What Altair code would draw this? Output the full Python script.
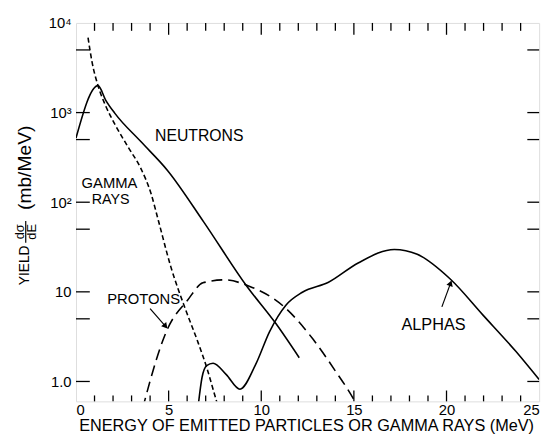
import altair as alt
import pandas as pd

# ---- data (energy in MeV, yield in mb/MeV) ----
neutron_e = [0.0, 1.19, 1.6, 2.1, 3.5, 4.95, 6.9, 9.2, 10.8, 12.05]
neutron_y = [520, 2000, 1380, 980, 475, 225, 60, 11.7, 4.4, 1.84]

gamma_e = [0.65, 0.87, 1.19, 1.58, 2.11, 2.82, 3.5, 4.05, 4.45, 5.12, 5.92, 6.54, 7.07, 7.52, 7.7]
gamma_y = [6840, 3630, 1990, 1216, 733, 410, 238, 125, 62, 19, 6.3, 2.9, 1.4, 0.67, 0.5]

proton_e = [3.6, 3.7, 4.95, 6.01, 6.85, 8.0, 9.38, 11.2, 12.8, 14.0, 15.05, 15.25]
proton_y = [0.5, 0.6, 3.9, 8.0, 12.6, 13.6, 11.5, 6.9, 2.95, 1.31, 0.6, 0.5]

alpha_e = [6.58, 6.8, 7.05, 7.4, 8.1, 8.85, 9.7, 10.45, 11.33, 12.22, 13.63, 15.23, 17.18,
           18.42, 20.2, 21.97, 23.74, 25.0]
alpha_y = [0.5, 1.1, 1.5, 1.6, 1.2, 0.82, 1.55, 3.6, 7.1, 9.9, 12.8, 21, 29.7,
           26.2, 13.9, 5.5, 2.17, 1.05]

x_tick_vals = [0, 5, 10, 15, 20, 25]
x_minor_vals = [v for v in range(1, 25) if v % 5 != 0]
x_major_inner = [5, 10, 15, 20]
y_tick_vals = [1, 10, 100, 1000, 10000]
y_tick_text = ["1.0", "10", "10²", "10³", "10⁴"]
y_inner_vals = [1, 5, 10, 50, 100, 500, 1000, 5000]

# annotation labels (data coordinates)
neutron_label = ("NEUTRONS", 6.65, 545)
proton_label = ("PROTONS", 3.65, 8.4)
alpha_label = ("ALPHAS", 19.3, 4.25)
gamma_label = ("GAMMA", 0.3, 162)
rays_label = ("RAYS", 0.85, 105)

proton_arrow_e = [4.0, 4.8]
proton_arrow_v = [6.5, 4.2]
alpha_arrow_e = [19.75, 20.2]
alpha_arrow_v = [6.8, 12.2]

W, H = 470, 384
FONT = "Liberation Sans"

x_scale = alt.Scale(domain=[0, 25], nice=False, zero=False)
y_scale = alt.Scale(type="log", domain=[0.6, 10000], nice=False)

expr = " : ".join(f"datum.value == {v} ? '{t}'" for v, t in zip(y_tick_vals, y_tick_text)) + " : ''"
x_axis = alt.Axis(values=x_tick_vals, domain=False, ticks=False, grid=False, title=None,
                  labelFontSize=15, labelPadding=1, labelColor="black", labelFont=FONT)
y_axis = alt.Axis(values=y_tick_vals, domain=False, ticks=False, grid=False, title=None,
                  labelExpr=expr, labelFontSize=15, labelPadding=5, labelColor="black",
                  labelFont=FONT)


def X(f="e"):
    return alt.X(f"{f}:Q", scale=x_scale, axis=x_axis)


def Y(f="v"):
    return alt.Y(f"{f}:Q", scale=y_scale, axis=y_axis)


def df(e, v):
    return pd.DataFrame({"e": e, "v": v})


def curve(e, v, dash=None):
    kw = dict(color="black", strokeWidth=1.6, interpolate="monotone", clip=True)
    if dash:
        kw["strokeDash"] = dash
    return alt.Chart(df(e, v)).mark_line(**kw).encode(x=X(), y=Y(), order="e:Q")


neutrons = curve(neutron_e, neutron_y)
gamma = curve(gamma_e, gamma_y, [5, 3])
protons = curve(proton_e, proton_y, [11, 6])
alphas = curve(alpha_e, alpha_y)

# inward ticks
tick_style = dict(color="black", strokeWidth=1.3)
bx_minor = alt.Chart(pd.DataFrame({"e": x_minor_vals})).mark_rule(**tick_style).encode(
    x=X(), y=alt.value(H), y2=alt.value(H - 6))
bx_major = alt.Chart(pd.DataFrame({"e": x_major_inner})).mark_rule(**tick_style).encode(
    x=X(), y=alt.value(H), y2=alt.value(H - 11))
tx_minor = alt.Chart(pd.DataFrame({"e": x_minor_vals})).mark_rule(**tick_style).encode(
    x=X(), y=alt.value(0), y2=alt.value(8))
tx_major = alt.Chart(pd.DataFrame({"e": x_major_inner})).mark_rule(**tick_style).encode(
    x=X(), y=alt.value(0), y2=alt.value(12))
ly = alt.Chart(pd.DataFrame({"v": y_inner_vals})).mark_rule(**tick_style).encode(
    y=Y(), x=alt.value(0), x2=alt.value(14))
ry = alt.Chart(pd.DataFrame({"v": y_inner_vals})).mark_rule(**tick_style).encode(
    y=Y(), x=alt.value(W), x2=alt.value(W - 12))


# annotation text
def label(spec, size, align="center"):
    t, e, v = spec
    return alt.Chart(pd.DataFrame({"e": [e], "v": [v], "t": [t]})).mark_text(
        font=FONT, fontSize=size, color="black", align=align, baseline="middle").encode(
        x=X(), y=Y(), text="t:N")


labels = [
    label(neutron_label, 16),
    label(proton_label, 15),
    label(alpha_label, 16.5),
    label(gamma_label, 15, "left"),
    label(rays_label, 14.5, "left"),
]

p_arrow = alt.Chart(df(proton_arrow_e, proton_arrow_v)).mark_line(
    color="black", strokeWidth=1.2).encode(x=X(), y=Y())
p_head = alt.Chart(df(proton_arrow_e[-1:], proton_arrow_v[-1:])).mark_point(
    shape="triangle", filled=True, color="black", opacity=1, size=45, angle=140).encode(x=X(), y=Y())
a_arrow = alt.Chart(df(alpha_arrow_e, alpha_arrow_v)).mark_line(
    color="black", strokeWidth=1.2).encode(x=X(), y=Y())
a_head = alt.Chart(df(alpha_arrow_e[-1:], alpha_arrow_v[-1:])).mark_point(
    shape="triangle", filled=True, color="black", opacity=1, size=45, angle=20).encode(x=X(), y=Y())

# axis titles (drawn as text)
base = alt.Chart(pd.DataFrame({"a": [0]}))


def ptext(t, x, y, size=14, angle=0):
    return base.mark_text(text=t, font=FONT, fontSize=size, color="black", align="center",
                          baseline="middle", angle=angle).encode(x=alt.value(x), y=alt.value(y))


xtitle = ptext("ENERGY OF EMITTED PARTICLES OR GAMMA RAYS (MeV)", 234, 409.5, 16.5)
yt1 = ptext("YIELD", -52, 246, 14, 270)
yt2 = ptext("dσ", -57, 212, 13, 270)
yt3 = ptext("dE", -45, 212, 13, 270)
yt4 = ptext("(mb/MeV)", -52, 147, 19.5, 270)
ybar = base.mark_rule(color="black", strokeWidth=1.2).encode(
    x=alt.value(-51), y=alt.value(201), y2=alt.value(223))

chart = alt.layer(
    neutrons, gamma, protons, alphas,
    bx_minor, bx_major, tx_minor, tx_major, ly, ry,
    *labels, p_arrow, p_head, a_arrow, a_head,
    xtitle, yt1, yt2, yt3, yt4, ybar,
).properties(
    width=W, height=H,
    autosize=alt.AutoSizeParams(type="none"),
    padding={"left": 69, "top": 12, "right": 10, "bottom": 33},
).configure_view(stroke="black", strokeWidth=1.5).configure(font=FONT, background="white")

chart.save("out.html", embed_options={"renderer": "svg", "actions": False})
